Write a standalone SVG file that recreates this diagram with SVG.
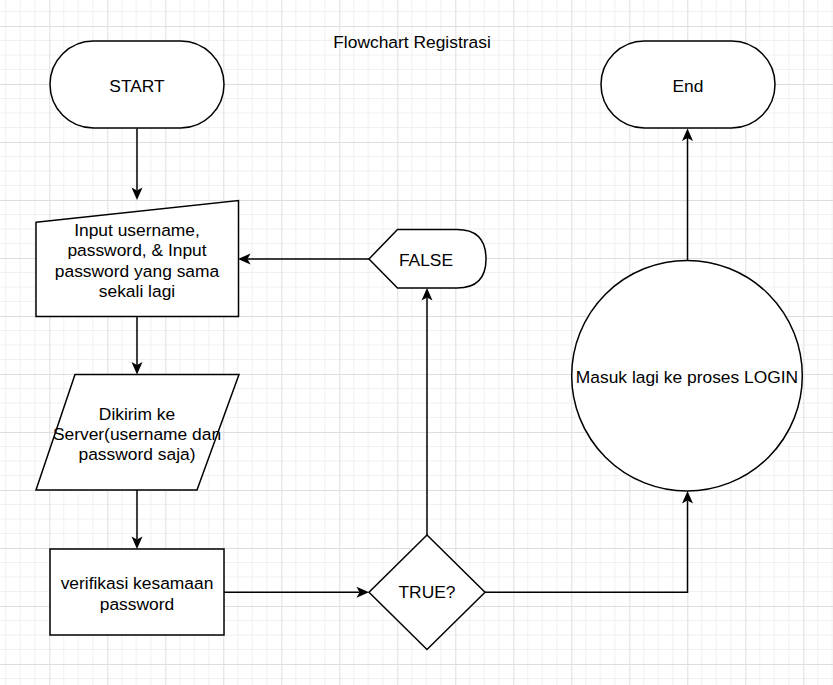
<svg xmlns="http://www.w3.org/2000/svg" width="833" height="685" viewBox="0 0 833 685">
<style>
.s{fill:#fff;stroke:#000;stroke-width:1.5}
.t{font-family:"Liberation Sans",Arial,Helvetica,sans-serif;font-size:17.4px;fill:#000;text-anchor:middle}
.c{fill:none;stroke:#000;stroke-width:1.5}
</style>
<defs>
<pattern id="grid" patternUnits="userSpaceOnUse" x="49.3" y="26" width="58" height="58">
<path d="M14.5,0V58M29,0V58M43.5,0V58M0,14.5H58M0,29H58M0,43.5H58" stroke="#f0f0f0" stroke-width="1" fill="none"/>
<path d="M0.5,0V58M0,0.5H58" stroke="#dedede" stroke-width="1" fill="none"/>
</pattern>
<marker id="arr" markerUnits="userSpaceOnUse" markerWidth="14" markerHeight="12" viewBox="-13 -6 14 12" refX="-9.5" refY="0" orient="auto">
<path d="M0,0 L-12.5,-5.5 L-9.5,0 L-12.5,5.5 Z" fill="#000"/>
</marker>
</defs>
<rect width="833" height="685" fill="#fff"/>
<rect width="833" height="685" fill="url(#grid)"/>
<g id="connectors">
<path class="c" d="M137,128.5V190.5" marker-end="url(#arr)"/>
<path class="c" d="M137,316.5V365" marker-end="url(#arr)"/>
<path class="c" d="M137,490V539.5" marker-end="url(#arr)"/>
<path class="c" d="M224,592.3H359.5" marker-end="url(#arr)"/>
<path class="c" d="M427,535V297.5" marker-end="url(#arr)"/>
<path class="c" d="M369,259H247.5" marker-end="url(#arr)"/>
<path class="c" d="M485,592.3H687.5V500.5" marker-end="url(#arr)"/>
<path class="c" d="M687.5,260V138" marker-end="url(#arr)"/>
</g>
<g id="title"><text class="t" x="412" y="48">Flowchart Registrasi</text></g>
<g id="start">
<rect class="s" x="50" y="41" width="174" height="87" rx="43.5" ry="43.5"/>
<text class="t" x="137" y="92.3">START</text>
</g>
<g id="end">
<rect class="s" x="601" y="41" width="174" height="87" rx="43.5" ry="43.5"/>
<text class="t" x="688" y="92.3">End</text>
</g>
<g id="input">
<path class="s" d="M36,222.3L238.5,200.5V316.5H36Z"/>
<text class="t" x="137" y="235.7">Input username,</text>
<text class="t" x="137" y="256.1">password, &amp; Input</text>
<text class="t" x="137" y="276.5">password yang sama</text>
<text class="t" x="137" y="296.9">sekali lagi</text>
</g>
<g id="dikirim">
<path class="s" d="M75,374.5H239L197,490H36Z"/>
<text class="t" x="137" y="419.5">Dikirim ke</text>
<text class="t" x="137" y="439.9">Server(username dan</text>
<text class="t" x="137" y="460.3">password saja)</text>
</g>
<g id="verifikasi">
<rect class="s" x="50" y="549" width="174" height="86"/>
<text class="t" x="137" y="589.2">verifikasi kesamaan</text>
<text class="t" x="137" y="609.6">password</text>
</g>
<g id="true">
<path class="s" d="M427,535L485,592.3L427,649.5L369,592.3Z"/>
<text class="t" x="427" y="598.3">TRUE?</text>
</g>
<g id="false">
<path class="s" d="M369,259L397.5,229.5H457Q486,229.5 486,259Q486,288 457,288H397.5Z"/>
<text class="t" x="426" y="265.7">FALSE</text>
</g>
<g id="login">
<circle class="s" cx="687" cy="375.7" r="115.3"/>
<text class="t" x="687" y="382.6">Masuk lagi ke proses LOGIN</text>
</g>
</svg>
